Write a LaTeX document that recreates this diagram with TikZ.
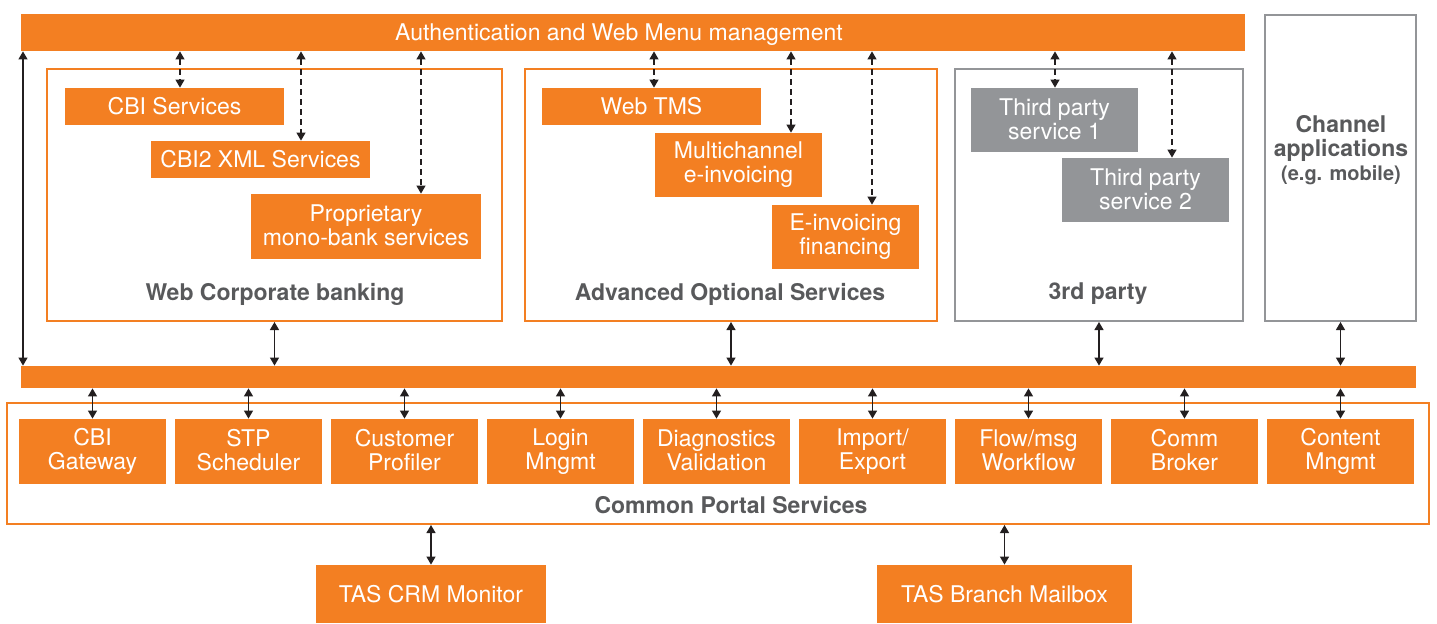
\documentclass[tikz,border=0pt]{standalone}
\usepackage{fontspec}
\setmainfont{TeX Gyre Heros}
\usetikzlibrary{arrows.meta}

\definecolor{tasorange}{HTML}{F37F22}
\definecolor{tasgrey}{HTML}{939598}
\definecolor{tasdark}{HTML}{58595B}
\definecolor{tasarrow}{HTML}{231F20}

% strut that centres capitals in a box
\newcommand\capstrut{\rule[-1.2pt]{0pt}{10.7pt}}

\begin{document}
\begin{tikzpicture}[x=0.5pt,y=-0.5pt,
  every node/.style={inner sep=0pt,align=center,font=\fontsize{11.5}{12}\selectfont,
    execute at begin node=\capstrut,execute at end node=\capstrut},
  obox/.style={fill=tasorange,text=white},
  gbox/.style={fill=tasgrey,text=white},
  ofrm/.style={draw=tasorange,line width=1pt},
  gfrm/.style={draw=tasgrey,line width=1pt},
  title/.style={text=tasdark,font=\fontsize{11.5}{12}\selectfont\bfseries},
  dbl/.style={tasarrow,line width=0.6pt,{Triangle[length=4pt,width=4.5pt]}-{Triangle[length=4pt,width=4.5pt]}},
  dbldash/.style={dbl,dash pattern=on 3pt off 2pt}]

  \useasboundingbox (0,0) rectangle (1437,623);

  % top and middle bars
  \node[obox,minimum width=612pt,minimum height=18.5pt] (auth) at (633,32.5) {};
  \node[text=white] (autht) at (619,33) {Authentication and Web Menu management};
  \node[obox,minimum width=697.5pt,minimum height=11pt] (bus) at (718.5,377) {};

  % the four upper groups
  \node[ofrm,minimum width=227.5pt,minimum height=126pt] (wcb) at (274.5,195) {};
  \node[ofrm,minimum width=206pt,minimum height=126pt] (aos) at (731,195) {};
  \node[gfrm,minimum width=144pt,minimum height=126pt] (third) at (1099,195) {};
  \node[gfrm,minimum width=75.5pt,minimum height=153pt] (chan) at (1340.5,168) {};

  \node[title] (wcbt) at (275,293) {Web Corporate banking};
  \node[title] (aost) at (730,293) {Advanced Optional Services};
  \node[title] (thirdt) at (1098,293) {3rd party};
  \node[title] (chant) at (1341,150) {Channel\\applications\\{\fontsize{10}{11}\selectfont(e.g. mobile)}};

  % web corporate banking
  \node[obox,minimum width=109.5pt,minimum height=18.5pt] (cbi) at (174.5,106.5) {CBI Services};
  \node[obox,minimum width=109.5pt,minimum height=18.5pt] (cbix) at (260.5,159.5) {CBI2 XML Services};
  \node[obox,minimum width=115pt,minimum height=32.5pt] (prop) at (366,226.5) {Proprietary\\mono-bank services};

  % advanced optional services
  \node[obox,minimum width=109.5pt,minimum height=18.5pt] (tms) at (651.5,106.5) {Web TMS};
  \node[obox,minimum width=83.5pt,minimum height=32pt] (multi) at (738.5,165) {Multichannel\\e-invoicing};
  \node[obox,minimum width=73.5pt,minimum height=32pt] (einv) at (845.5,237) {E-invoicing\\financing};

  % 3rd party
  \node[gbox,minimum width=83.5pt,minimum height=32pt] (tpa) at (1054.5,120) {Third party\\service 1};
  \node[gbox,minimum width=83.5pt,minimum height=32pt] (tpb) at (1145.5,190) {Third party\\service 2};

  \foreach \x/\n in {180/cbi,301/cbix,421/prop,654/tms,791/multi,872/einv,1055/tpa,1172/tpb}
    \draw[dbldash] (auth.south -| \x,0) -- (\n.north -| \x,0);

  \draw[dbl] (auth.south -| 23,0) -- (bus.north -| 23,0);
  \foreach \n in {wcb,aos,third,chan}
    \draw[dbl] (\n.south) -- (\n.south |- bus.north);

  % common portal services
  \node[ofrm,minimum width=711pt,minimum height=60.5pt] (cps) at (718,463.5) {};
  \node[title] (cpst) at (731,505) {Common Portal Services};

  \foreach \lab [count=\i from 0] in {CBI\\Gateway,STP\\Scheduler,Customer\\Profiler,Login\\Mngmt,
      Diagnostics\\Validation,Import/\\Export,Flow/msg\\Workflow,Comm\\Broker,Content\\Mngmt}
    \node[obox,minimum width=73.5pt,minimum height=32.5pt] (s\i) at (92.5+156*\i,451.5) {\lab};

  \foreach \i in {0,...,8}
    \draw[dbl] (bus.south -| s\i.north) -- (s\i.north);

  % back office
  \node[obox,minimum width=115pt,minimum height=29pt] (crm) at (431,594) {TAS CRM Monitor};
  \node[obox,minimum width=127.5pt,minimum height=29pt] (mbox) at (1004.5,594) {TAS Branch Mailbox};

  \draw[dbl] (cps.south -| crm.north) -- (crm.north);
  \draw[dbl] (cps.south -| mbox.north) -- (mbox.north);

\end{tikzpicture}
\end{document}
